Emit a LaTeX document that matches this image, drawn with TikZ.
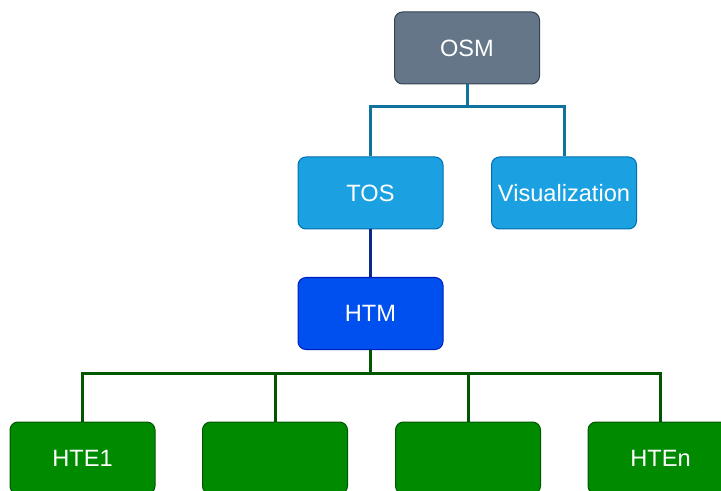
\documentclass[tikz,border=0pt]{standalone}
\usepackage{fontspec}
\setmainfont{Liberation Sans}
\definecolor{osmfill}{HTML}{647687}
\definecolor{osmline}{HTML}{314354}
\definecolor{tosfill}{HTML}{1BA1E2}
\definecolor{tosline}{HTML}{006EAF}
\definecolor{htmfill}{HTML}{0050EF}
\definecolor{htmline}{HTML}{001DBC}
\definecolor{htefill}{HTML}{008A00}
\definecolor{hteline}{HTML}{005700}
\definecolor{toplink}{HTML}{10739E}
\definecolor{midlink}{HTML}{0B2A8C}
\begin{document}
\begin{tikzpicture}[x=0.5pt,y=-0.5pt,
  box/.style={draw,line width=0.5pt,rounded corners=4pt,minimum width=72.5pt,minimum height=36pt,
    inner sep=0pt,text=white,font=\fontsize{11.8}{14}\selectfont},
  link/.style={line width=1.5pt}]
\useasboundingbox (0,0) rectangle (721,491);
% top level
\node[box,fill=osmfill,draw=osmline] (osm) at (467,48) {OSM};
\node[box,fill=tosfill,draw=tosline] (tos) at (370.5,193) {TOS};
\node[box,fill=tosfill,draw=tosline] (vis) at (564,193) {Visualization};
\coordinate (topbus) at (467,107);
\draw[link,toplink] (osm.south) -- (topbus);
\draw[link,toplink] (tos.north) |- (topbus) -| (vis.north);
% manager
\node[box,fill=htmfill,draw=htmline] (htm) at (370.5,313.5) {HTM};
\draw[link,midlink] (tos.south) -- (htm.north);
% engines
\node[box,fill=htefill,draw=hteline] (hte1) at (82.5,458) {HTE1};
\node[box,fill=htefill,draw=hteline] (hte2) at (275,458) {};
\node[box,fill=htefill,draw=hteline] (hte3) at (468,458) {};
\node[box,fill=htefill,draw=hteline] (hten) at (660.5,458) {HTEn};
\coordinate (htebus) at (370.5,373);
\draw[link,hteline] (htm.south) -- (htebus);
\draw[link,hteline] (hte1.north) |- (htebus) -| (hten.north);
\draw[link,hteline] (hte2.north) -- (hte2.north |- htebus);
\draw[link,hteline] (hte3.north) -- (hte3.north |- htebus);
\end{tikzpicture}
\end{document}
